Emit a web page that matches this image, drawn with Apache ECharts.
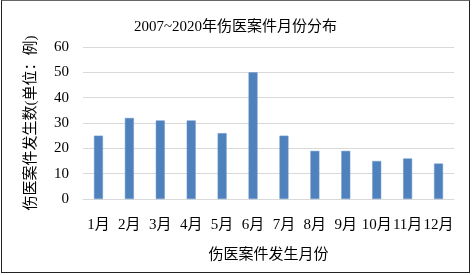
<!DOCTYPE html>
<html><head><meta charset="utf-8">
<script src="https://cdn.jsdelivr.net/npm/echarts@6/dist/echarts.min.js"></script>
<style>
html,body{margin:0;padding:0;background:#fff;}
#c{position:absolute;left:1px;top:0;width:467px;height:271px;border:1.5px solid #222;border-top-color:#666;}
</style></head>
<body><div id="c"></div>
<script>
const titleText = '2007~2020年伤医案件月份分布';
const categories = ['1月','2月','3月','4月','5月','6月','7月','8月','9月','10月','11月','12月'];
const cases = [25, 32, 31, 31, 26, 50, 25, 19, 19, 15, 16, 14];
const yName = '伤医案件发生数(单位：例)';
const xName = '伤医案件发生月份';
const font = '"Liberation Serif","Noto Sans CJK SC",serif';
const chart = echarts.init(document.getElementById('c'), null, {renderer:'canvas'});
chart.setOption({
  animation:false,
  title:{text:titleText,left:'center',top:14,textStyle:{fontFamily:font,fontSize:15,fontWeight:'normal',color:'#000'}},
  grid:{left:81,right:15,top:46,bottom:73,containLabel:false},
  xAxis:{type:'category',data:categories,
    axisLine:{lineStyle:{color:'#d9d9d9'}},axisTick:{show:false},
    axisLabel:{interval:0,margin:19,fontFamily:font,fontSize:15,color:'#000'},
    name:xName,nameLocation:'middle',nameGap:49,
    nameTextStyle:{fontFamily:font,fontSize:15,color:'#000'}},
  yAxis:{type:'value',min:0,max:60,interval:10,
    splitLine:{lineStyle:{color:'#d9d9d9'}},axisLine:{show:false},axisTick:{show:false},
    axisLabel:{margin:14,fontFamily:font,fontSize:15,color:'#000'},
    name:yName,nameLocation:'middle',nameGap:44,nameRotate:90,
    nameTextStyle:{fontFamily:font,fontSize:15,color:'#000'}},
  series:[{type:'bar',data:cases,barWidth:9,
    itemStyle:{color:'#4F81BD',borderColor:'#6f9bd0',borderWidth:0.5}}]
});
</script></body></html>
